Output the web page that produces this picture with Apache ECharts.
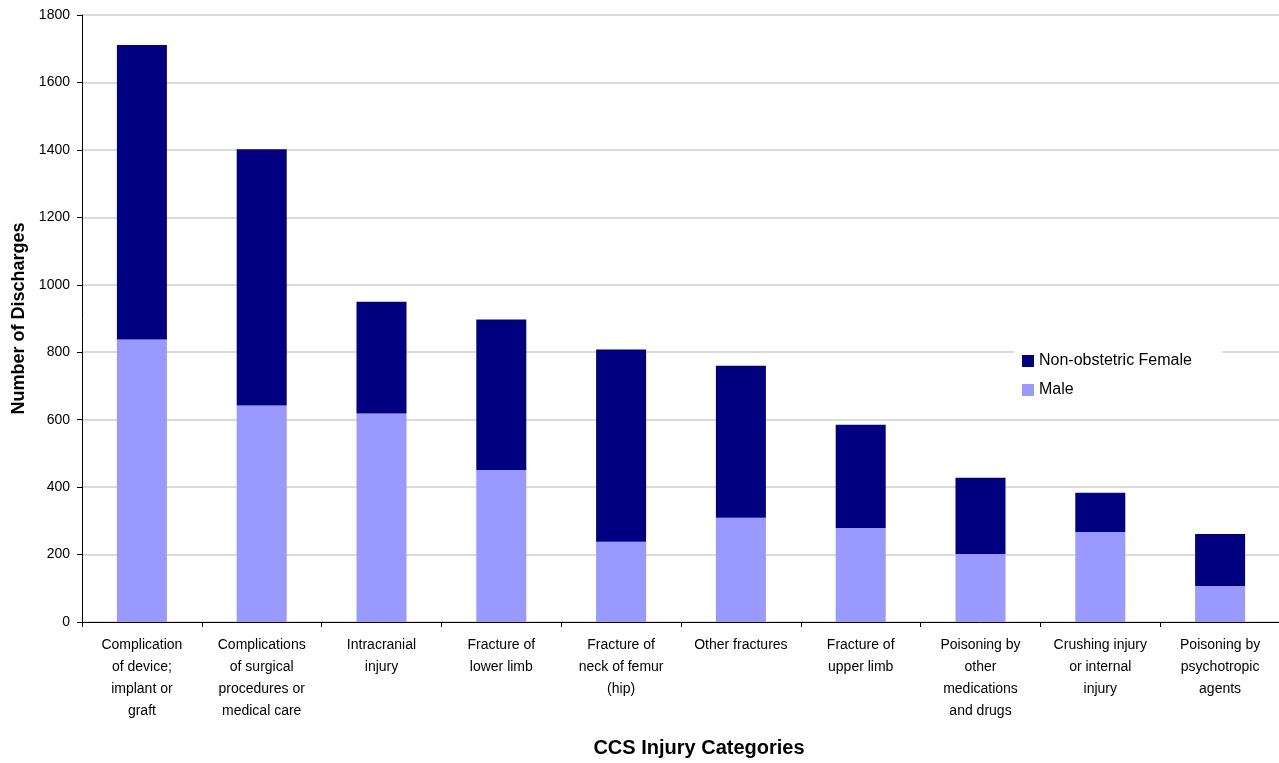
<!DOCTYPE html>
<html>
<head>
<meta charset="utf-8">
<script src="https://cdn.jsdelivr.net/npm/echarts@6/dist/echarts.min.js"></script>
<style>
  html, body { margin: 0; padding: 0; background: #fff; }
  #chart { width: 1279px; height: 763px; }
</style>
</head>
<body>
<div id="chart"></div>
<script>
// Top ten CCS injury categories, discharges split by sex
const categories = [
  'Complication\nof device;\nimplant or\ngraft',
  'Complications\nof surgical\nprocedures or\nmedical care',
  'Intracranial\ninjury',
  'Fracture of\nlower limb',
  'Fracture of\nneck of femur\n(hip)',
  'Other fractures',
  'Fracture of\nupper limb',
  'Poisoning by\nother\nmedications\nand drugs',
  'Crushing injury\nor internal\ninjury',
  'Poisoning by\npsychotropic\nagents'
];
const maleValues   = [838, 642, 618, 451, 238, 309, 279, 202, 267, 107];
const femaleValues = [873, 760, 332, 446, 570, 451, 306, 226, 116, 154];
const yTicks = { min: 0, max: 1800, interval: 200 };

const FONT = '"Liberation Sans", Arial, sans-serif';

const chart = echarts.init(document.getElementById('chart'), null, { renderer: 'canvas' });

chart.setOption({
  animation: false,
  backgroundColor: '#ffffff',
  textStyle: { fontFamily: FONT, color: '#000' },
  grid: {
    left: 82, right: -1, top: 15, bottom: 141,
    containLabel: false,
    outerBoundsMode: 'none'
  },
  legend: {
    orient: 'vertical',
    left: 1014,
    top: 344,
    padding: [8, 30, 8, 8],
    backgroundColor: '#ffffff',
    itemWidth: 12,
    itemHeight: 12,
    itemGap: 11,
    icon: 'rect',
    textStyle: { fontFamily: FONT, fontSize: 16, color: '#000', lineHeight: 18 },
    data: ['Non-obstetric Female', 'Male']
  },
  xAxis: {
    type: 'category',
    data: categories,
    name: 'CCS Injury Categories',
    nameLocation: 'middle',
    nameGap: 116,
    nameTextStyle: {
      fontFamily: FONT, fontSize: 20, fontWeight: 'bold', color: '#000',
      padding: [0, 0, 0, 36]
    },
    axisLine: { lineStyle: { color: '#000', width: 1 } },
    axisTick: { show: true, length: 5, lineStyle: { color: '#000' } },
    axisLabel: {
      interval: 0,
      margin: 12,
      fontFamily: FONT,
      fontSize: 14,
      lineHeight: 22,
      color: '#000',
      align: 'center'
    },
    splitLine: { show: false }
  },
  yAxis: {
    type: 'value',
    min: yTicks.min,
    max: yTicks.max,
    interval: yTicks.interval,
    name: 'Number of Discharges',
    nameLocation: 'middle',
    nameRotate: 90,
    nameGap: 53,
    nameTextStyle: { fontFamily: FONT, fontSize: 18, fontWeight: 'bold', color: '#000' },
    axisLine: { show: true, lineStyle: { color: '#000', width: 1 } },
    axisTick: { show: true, length: 5, lineStyle: { color: '#000' } },
    axisLabel: {
      fontFamily: FONT, fontSize: 14, color: '#000', margin: 12,
      formatter: (v) => String(v)
    },
    splitLine: { show: true, lineStyle: { color: '#cfcfcf', width: 1.5 } }
  },
  series: [
    {
      name: 'Male',
      type: 'bar',
      stack: 'total',
      barWidth: 50,
      itemStyle: { color: '#9999ff' },
      data: maleValues
    },
    {
      name: 'Non-obstetric Female',
      type: 'bar',
      stack: 'total',
      barWidth: 50,
      itemStyle: { color: '#000080' },
      data: femaleValues
    }
  ]
});
</script>
</body>
</html>
